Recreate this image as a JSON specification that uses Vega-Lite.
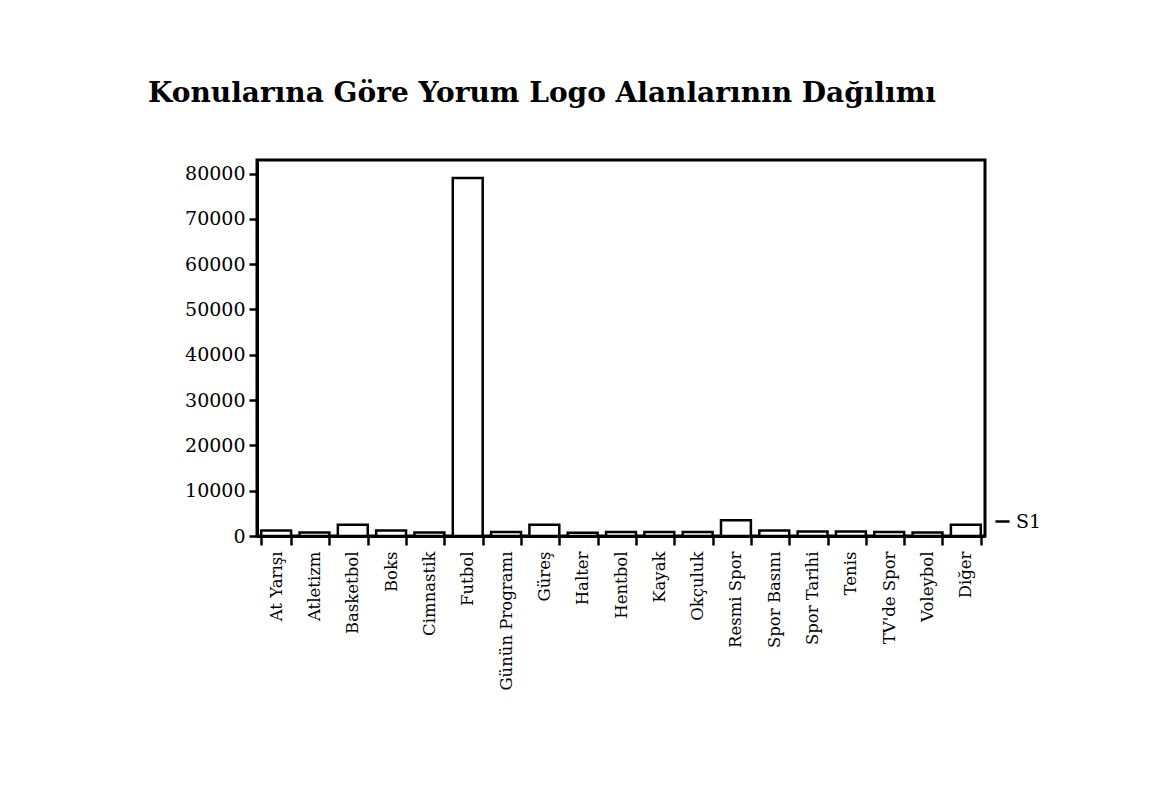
{
  "$schema": "https://vega.github.io/schema/vega-lite/v6.json",
  "autosize": "none",
  "width": 728,
  "height": 376,
  "padding": {"left": 257, "top": 160, "right": 183, "bottom": 271},
  "background": "white",
  "title": {
    "text": "Konularına Göre Yorum Logo Alanlarının Dağılımı",
    "font": "DejaVu Serif",
    "fontSize": 28,
    "fontWeight": "bold",
    "color": "black",
    "anchor": "middle",
    "dx": -79,
    "offset": 52
  },
  "data": {
    "values": [
      {"konu": "At Yarışı", "alan": 1200, "seri": "S1"},
      {"konu": "Atletizm", "alan": 800, "seri": "S1"},
      {"konu": "Basketbol", "alan": 2500, "seri": "S1"},
      {"konu": "Boks", "alan": 1200, "seri": "S1"},
      {"konu": "Cimnastik", "alan": 800, "seri": "S1"},
      {"konu": "Futbol", "alan": 79000, "seri": "S1"},
      {"konu": "Günün Programı", "alan": 900, "seri": "S1"},
      {"konu": "Güreş", "alan": 2500, "seri": "S1"},
      {"konu": "Halter", "alan": 700, "seri": "S1"},
      {"konu": "Hentbol", "alan": 900, "seri": "S1"},
      {"konu": "Kayak", "alan": 900, "seri": "S1"},
      {"konu": "Okçuluk", "alan": 900, "seri": "S1"},
      {"konu": "Resmi Spor", "alan": 3500, "seri": "S1"},
      {"konu": "Spor Basını", "alan": 1200, "seri": "S1"},
      {"konu": "Spor Tarihi", "alan": 1000, "seri": "S1"},
      {"konu": "Tenis", "alan": 1000, "seri": "S1"},
      {"konu": "TV'de Spor", "alan": 900, "seri": "S1"},
      {"konu": "Voleybol", "alan": 800, "seri": "S1"},
      {"konu": "Diğer", "alan": 2500, "seri": "S1"}
    ]
  },
  "mark": {"type": "bar", "fill": "white", "strokeWidth": 2.5},
  "encoding": {
    "x": {
      "field": "konu",
      "type": "nominal",
      "sort": null,
      "title": null,
      "scale": {"paddingInner": 0.22, "paddingOuter": 0.11},
      "axis": {
        "labelAngle": -90,
        "labelFont": "DejaVu Serif",
        "labelFontSize": 16.5,
        "labelColor": "black",
        "labelPadding": 6,
        "tickColor": "black",
        "tickWidth": 2.5,
        "tickSize": 9,
        "tickBand": "extent",
        "domainColor": "black",
        "domainWidth": 3
      }
    },
    "y": {
      "field": "alan",
      "type": "quantitative",
      "title": null,
      "scale": {"domain": [0, 83000], "nice": false},
      "axis": {
        "values": [0, 10000, 20000, 30000, 40000, 50000, 60000, 70000, 80000],
        "format": "d",
        "grid": false,
        "labelFont": "DejaVu Serif",
        "labelFontSize": 19,
        "labelColor": "black",
        "labelPadding": 4,
        "tickColor": "black",
        "tickWidth": 2.5,
        "tickSize": 8,
        "domainColor": "black",
        "domainWidth": 3
      }
    },
    "stroke": {
      "field": "seri",
      "type": "nominal",
      "scale": {"range": ["black"]},
      "legend": {
        "title": null,
        "orient": "none",
        "legendX": 736,
        "legendY": 352,
        "symbolType": "stroke",
        "symbolSize": 200,
        "symbolStrokeWidth": 2.5,
        "labelFont": "DejaVu Serif",
        "labelFontSize": 19,
        "labelColor": "black"
      }
    }
  },
  "config": {
    "view": {"stroke": "black", "strokeWidth": 3}
  }
}
